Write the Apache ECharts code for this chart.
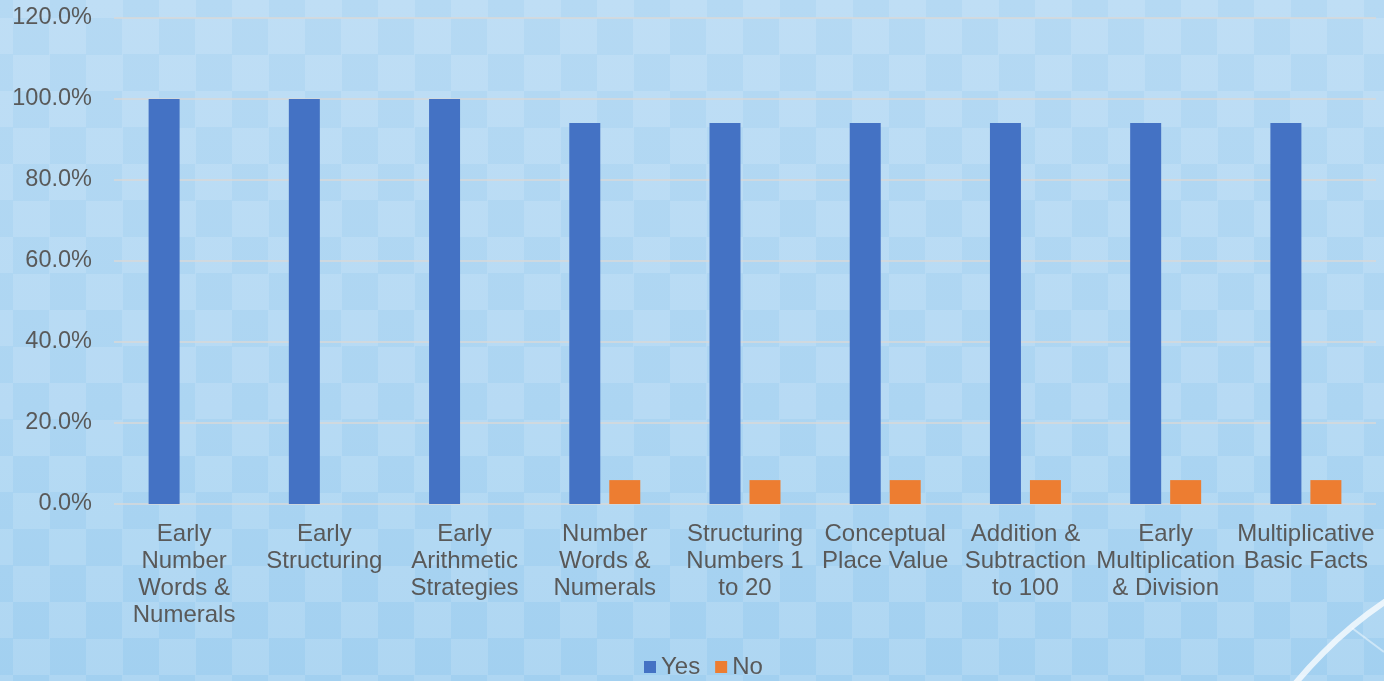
<!DOCTYPE html>
<html>
<head>
<meta charset="utf-8">
<script src="https://cdn.jsdelivr.net/npm/echarts@6/dist/echarts.min.js"></script>
<style>
html,body{margin:0;padding:0;width:1384px;height:681px;overflow:hidden;}
body{
  background-image:
    repeating-conic-gradient(rgba(255,255,255,0.13) 0 25%, rgba(255,255,255,0) 0 50%),
    linear-gradient(180deg,#b5d9f3 0%,#acd5f2 60%,#a2d0f0 100%);
  background-size:73px 73px,100% 100%;
  background-position:13px 18px,0 0;
}
#chart{width:1384px;height:681px;}
</style>
</head>
<body>
<div id="chart"></div>
<script>
var categories = [
  "Early\nNumber\nWords &\nNumerals",
  "Early\nStructuring",
  "Early\nArithmetic\nStrategies",
  "Number\nWords &\nNumerals",
  "Structuring\nNumbers 1\nto 20",
  "Conceptual\nPlace Value",
  "Addition &\nSubtraction\nto 100",
  "Early\nMultiplication\n& Division",
  "Multiplicative\nBasic Facts"
];
var yesValues = [1.0, 1.0, 1.0, 0.941, 0.941, 0.941, 0.941, 0.941, 0.941];
var noValues  = [0, 0, 0, 0.059, 0.059, 0.059, 0.059, 0.059, 0.059];
var seriesNames = ["Yes", "No"];

var chart = echarts.init(document.getElementById('chart'), null, {renderer: 'canvas'});
var font = 'Liberation Sans, Arial, sans-serif';
chart.setOption({
  backgroundColor: 'transparent',
  animation: false,
  graphic: [
    {type: 'arc', shape: {cx: 1620, cy: 950, r: 420, startAngle: Math.PI, endAngle: Math.PI * 1.5},
     style: {stroke: 'rgba(255,255,255,0.75)', lineWidth: 6, fill: null}, silent: true, z: -1},
    {type: 'line', shape: {x1: 1352, y1: 628, x2: 1384, y2: 652},
     style: {stroke: 'rgba(255,255,255,0.45)', lineWidth: 2}, silent: true, z: -1}
  ],
  grid: {left: 114, right: 8, top: 18, bottom: 177, containLabel: false},
  legend: {
    data: seriesNames,
    left: 639, top: 650,
    itemWidth: 12, itemHeight: 12, itemGap: 15,
    icon: 'rect',
    textStyle: {fontFamily: font, fontSize: 24, color: '#595959'}
  },
  xAxis: {
    type: 'category',
    data: categories,
    axisLine: {show: false},
    axisTick: {show: false},
    axisLabel: {interval: 0, fontFamily: font, fontSize: 24, lineHeight: 27, color: '#595959', margin: 17, align: 'center'}
  },
  yAxis: {
    type: 'value',
    min: 0, max: 1.2, interval: 0.2,
    axisLine: {show: false},
    axisTick: {show: false},
    splitLine: {lineStyle: {color: '#d9d9d9', width: 1.5}},
    axisLabel: {
      fontFamily: font, fontSize: 23.5, color: '#595959', margin: 22,
      formatter: function (v) { return (v * 100).toFixed(1) + '%'; }
    }
  },
  series: [
    {name: seriesNames[0], type: 'bar', data: yesValues, barWidth: 31, barGap: '29%', itemStyle: {color: '#4472c4'}},
    {name: seriesNames[1], type: 'bar', data: noValues, barWidth: 31, barGap: '29%', itemStyle: {color: '#ed7d31'}}
  ]
});
</script>
</body>
</html>
